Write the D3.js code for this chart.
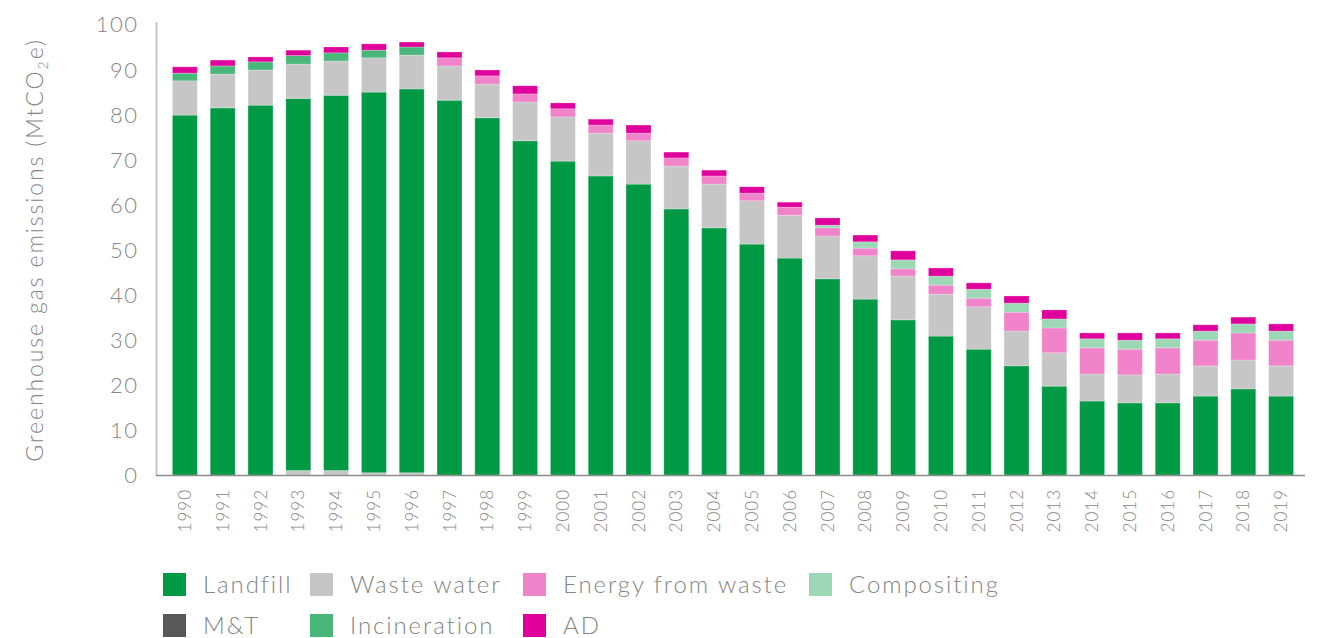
<!DOCTYPE html>
<html>
<head>
<meta charset="utf-8">
<script src="https://cdnjs.cloudflare.com/ajax/libs/d3/7.8.5/d3.min.js"></script>
<style>
  body { margin: 0; background: #fff; }
  text { font-family: "Lato", sans-serif; font-weight: 300; fill: #858585; }
</style>
</head>
<body>
<div id="chart"></div>
<script>
// Chart size
const width = 1319;
const height = 638;

// Data (MtCO2e)
const years = d3.range(1990, 2020).map(String);
const mt = [0, 0, 0, 1.0, 1.0, 0.5, 0.5, 0, 0, 0, 0, 0, 0, 0, 0, 0, 0, 0, 0, 0, 0, 0, 0, 0, 0, 0, 0, 0, 0, 0];
const landfill = [79.8, 81.4, 82.0, 82.5, 83.2, 84.4, 85.1, 83.1, 79.2, 74.1, 69.6, 66.3, 64.5, 59.0, 54.8,
    51.2, 48.1, 43.5, 39.0, 34.4, 30.8, 27.9, 24.2, 19.7, 16.4, 16.0, 16.0, 17.5, 19.1, 17.5];
const wasteWater = [7.6, 7.5, 7.8, 7.6, 7.6, 7.6, 7.5, 7.6, 7.5, 8.6, 9.8, 9.5, 9.6, 9.5, 9.7,
    9.6, 9.5, 9.5, 9.6, 9.7, 9.3, 9.4, 7.7, 7.4, 6.0, 6.2, 6.4, 6.7, 6.4, 6.7];
const incineration = [1.7, 1.8, 1.8, 1.9, 1.8, 1.7, 1.8, 0, 0, 0, 0, 0, 0, 0, 0, 0, 0, 0, 0, 0, 0, 0, 0, 0, 0, 0, 0, 0, 0, 0];
const energyFromWaste = [0, 0, 0, 0, 0, 0, 0, 1.8, 1.8, 1.8, 1.8, 1.8, 1.7, 1.8, 1.8,
    1.7, 1.8, 1.8, 1.7, 1.6, 2.0, 1.9, 4.2, 5.5, 5.8, 5.7, 5.8, 5.7, 6.0, 5.7];
const compositing = [0, 0, 0, 0, 0, 0, 0, 0, 0, 0, 0, 0, 0, 0, 0,
    0, 0, 0.6, 1.4, 2.0, 2.0, 2.0, 2.0, 2.0, 2.0, 2.0, 2.0, 2.0, 2.0, 2.0];
const ad = [1.4, 1.3, 1.1, 1.2, 1.3, 1.4, 1.1, 1.3, 1.3, 1.8, 1.3, 1.3, 1.8, 1.3, 1.3,
    1.4, 1.1, 1.6, 1.5, 2.0, 1.8, 1.4, 1.6, 2.0, 1.3, 1.6, 1.3, 1.4, 1.5, 1.6];
const yTicks = [0, 10, 20, 30, 40, 50, 60, 70, 80, 90, 100];

// Series in stacking order (bottom to top)
const series = [
    {key: "M&T", values: mt, color: "#585858", barColor: "#c6c6c6"}, // shown light in the bars of the source
    {key: "Landfill", values: landfill, color: "#009a44"},
    {key: "Waste water", values: wasteWater, color: "#c6c6c6"},
    {key: "Incineration", values: incineration, color: "#4ab77a"},
    {key: "Energy from waste", values: energyFromWaste, color: "#f083c9"},
    {key: "Compositing", values: compositing, color: "#9cd8b5"},
    {key: "AD", values: ad, color: "#e0009b"}
];

// Legend order as in the source
const legendOrder = ["Landfill", "Waste water", "Energy from waste", "Compositing", "M&T", "Incineration", "AD"];

// Build table for d3.stack
const table = years.map((y, i) => {
    const row = {year: y};
    series.forEach(s => row[s.key] = s.values[i]);
    return row;
});
const stacked = d3.stack().keys(series.map(s => s.key))(table);

const svg = d3.select("#chart")
    .append("svg")
    .attr("width", width)
    .attr("height", height);

// Scales
const x = d3.scaleBand()
    .domain(years)
    .range([166, 1300])
    .paddingInner(0.34)
    .paddingOuter(0.17);

const y = d3.scaleLinear()
    .domain([0, 100])
    .range([475, 24]);

// Stacked bars
svg.append("g")
    .selectAll("g")
    .data(stacked)
    .join("g")
    .attr("fill", (d, i) => series[i].barColor || series[i].color)
    .selectAll("rect")
    .data(d => d.filter(p => p[1] - p[0] > 0))
    .join("rect")
    .attr("x", d => x(d.data.year))
    .attr("y", d => y(d[1]))
    .attr("width", x.bandwidth())
    .attr("height", d => y(d[0]) - y(d[1]))
    .attr("stroke", "#fff")
    .attr("stroke-opacity", 0.3)
    .attr("stroke-width", 0.8);

// Y axis
const yAxis = svg.append("g")
    .attr("transform", "translate(156.5,0)")
    .call(d3.axisLeft(y).tickValues(yTicks).tickSize(0).tickPadding(18));
yAxis.select(".domain").attr("stroke", "#c8c8c8").attr("stroke-width", 2)
    .attr("d", `M0,${y(100) - 2}V${y(0)}`);
yAxis.selectAll("text")
    .attr("font-family", null)
    .attr("font-size", null)
    .style("font-size", "22px")
    .style("letter-spacing", "1.5px")
    .attr("dy", "0.36em");

// X axis
const xAxis = svg.append("g")
    .attr("transform", `translate(0,${y(0)})`)
    .call(d3.axisBottom(x).tickSize(0).tickPadding(0));
xAxis.select(".domain").attr("stroke", "#8c8c8c").attr("stroke-width", 1.5)
    .attr("d", "M156,0.5H1305");
xAxis.selectAll("text")
    .style("font-size", "17px")
    .style("letter-spacing", "1px")
    .attr("text-anchor", "end")
    .attr("transform", "translate(0,14) rotate(-90)")
    .attr("x", 0)
    .attr("y", 0)
    .attr("dy", "0.36em");

// Y axis title
svg.append("text")
    .attr("transform", "translate(35,250) rotate(-90)")
    .attr("text-anchor", "middle")
    .attr("dy", "0.36em")
    .style("font-size", "23px")
    .style("letter-spacing", "1.9px")
    .html("Greenhouse gas emissions (MtCO<tspan dy='5' style='font-size:14px'>2</tspan><tspan dy='-5'>e)</tspan>");

// Legend
const colX = [163, 310, 523, 809];
const legend = svg.append("g")
    .selectAll("g")
    .data(legendOrder)
    .join("g")
    .attr("transform", (d, i) => `translate(${colX[i % 4]},${i < 4 ? 573 : 614})`);

legend.append("rect")
    .attr("width", 23)
    .attr("height", 23)
    .attr("fill", d => series.find(s => s.key === d).color);

legend.append("text")
    .attr("x", 40)
    .attr("y", 20)
    .style("font-size", "24px")
    .style("letter-spacing", "1.9px")
    .text(d => d);
</script>
</body>
</html>
